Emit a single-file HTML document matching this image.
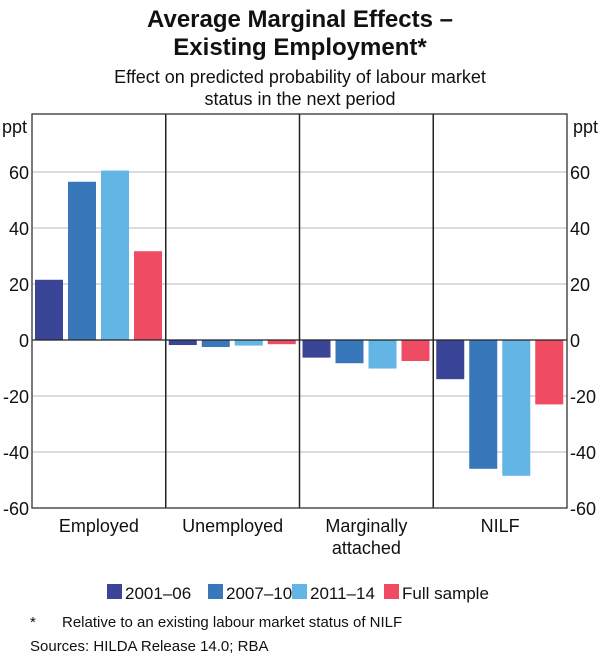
<!DOCTYPE html>
<html><head><meta charset="utf-8"><style>
body{margin:0;background:#fff;font-family:"Liberation Sans",sans-serif;}
svg text{font-family:"Liberation Sans",sans-serif;fill:#111;}
</style></head><body>
<svg width="600" height="655">
<text x="300" y="27" text-anchor="middle" font-size="24" font-weight="bold">Average Marginal Effects –</text>
<text x="300" y="55" text-anchor="middle" font-size="24" font-weight="bold">Existing Employment*</text>
<text x="300" y="83" text-anchor="middle" font-size="18">Effect on predicted probability of labour market</text>
<text x="300" y="105" text-anchor="middle" font-size="18">status in the next period</text>
<g id="grid"></g><g id="bars"></g><g id="axes"></g>
<text x="2" y="133" font-size="18">ppt</text>
<text x="598" y="133" text-anchor="end" font-size="18">ppt</text>
<g id="legend"></g>
<text x="30" y="627" font-size="15">*</text>
<text x="62" y="627" font-size="15">Relative to an existing labour market status of NILF</text>
<text x="30" y="651" font-size="15">Sources:   HILDA Release 14.0; RBA</text>
</svg>
<script>
const categories=["Employed","Unemployed","Marginally|attached","NILF"];
const seriesNames=["2001–06","2007–10","2011–14","Full sample"];
const s2001=[21.5,-1.8,-6.3,-14];
const s2007=[56.5,-2.5,-8.3,-46];
const s2011=[60.5,-2,-10.2,-48.5];
const sFull=[31.7,-1.5,-7.5,-23];
const ticks=[60,40,20,0,-20,-40,-60];
const colors=["#3a4597","#3777ba","#62b5e4","#ef4b63"];
const series=[s2001,s2007,s2011,sFull];
const L=32,R=567,T=114,B=508,ymin=-60,ymax=80.7;
const y=v=>B-(v-ymin)/(ymax-ymin)*(B-T);
const pw=(R-L)/categories.length;
const NS="http://www.w3.org/2000/svg";
function mk(tag,attrs,parent,txt){const e=document.createElementNS(NS,tag);for(const k in attrs)e.setAttribute(k,attrs[k]);if(txt!==undefined)e.textContent=txt;parent.appendChild(e);return e;}
const grid=document.getElementById('grid'),bars=document.getElementById('bars'),axes=document.getElementById('axes'),leg=document.getElementById('legend');
ticks.forEach(t=>{
 if(t!==0&&t!==-60){const g=mk('line',{x1:L,x2:R,y1:y(t),y2:y(t),stroke:'#c8c8c8','stroke-width':1.2},grid);
 
 }
 const a=mk('text',{x:L-3,y:y(t)+7,'text-anchor':'end','font-size':18},axes,String(t));
 
 
 const b=mk('text',{x:R+3,y:y(t)+7,'font-size':18},axes,String(t));
 
 
});
categories.forEach((c,i)=>{
 const x0=L+i*pw;
 series.forEach((s,j)=>{
  const v=s[i];const top=Math.min(y(v),y(0)),h=Math.abs(y(v)-y(0));
  const r=mk('rect',{x:x0+3+j*33,y:top,width:28,height:h,fill:colors[j]},bars);
  
  
 });
 c.split('|').forEach((ln,k)=>{
  const t=mk('text',{x:x0+pw/2,y:532+k*22,'text-anchor':'middle','font-size':18},axes,ln);
  
  
 });
 if(i>0){const d=mk('line',{x1:x0,x2:x0,y1:T,y2:B,stroke:'#222','stroke-width':1.5},axes);
 
 }
});
const z=mk('line',{x1:L,x2:R,y1:y(0),y2:y(0),stroke:'#222','stroke-width':1.3},axes);


const fr=mk('rect',{x:L,y:T,width:R-L,height:B-T,fill:'none',stroke:'#333','stroke-width':1.3},axes);


const lx=[107,208,292,384];
seriesNames.forEach((n,j)=>{
 const r=mk('rect',{x:lx[j],y:584,width:15,height:15,fill:colors[j]},leg);
 
 
 const t=mk('text',{x:lx[j]+18,y:599,'font-size':17},leg,n);
 
 
});
</script>
</body></html>
